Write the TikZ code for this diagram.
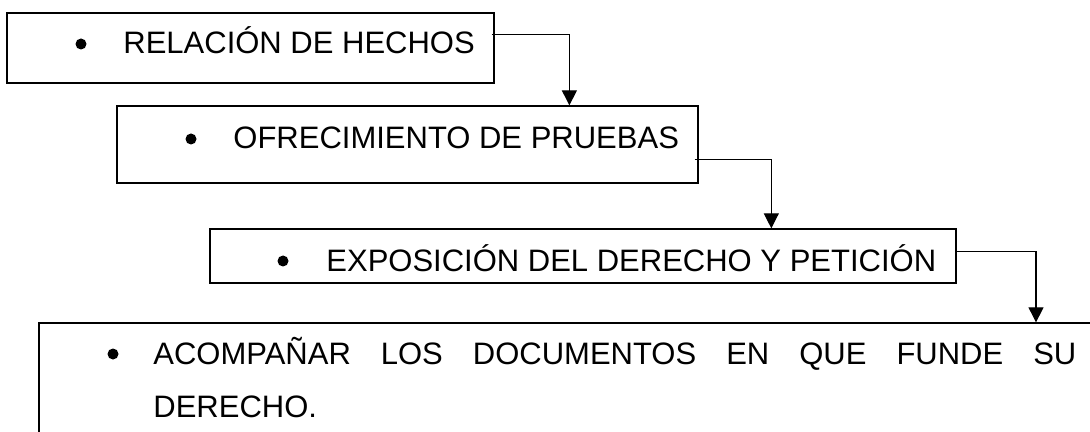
\documentclass[tikz,border=0pt]{standalone}
\usepackage{fontspec}
\setmainfont{Liberation Sans}
\usetikzlibrary{arrows.meta,calc}
\begin{document}
\begin{tikzpicture}[x=0.5pt,y=-0.5pt,
  box/.style={draw=black,line width=0.65pt,rectangle,inner sep=0pt},
  lbl/.style={anchor=base west,inner sep=0pt,font=\fontsize{15.5}{26.5}\selectfont},
  dot/.style={circle,fill=black,inner sep=0pt,minimum size=5.5pt},
  link/.style={line width=0.55pt,-{Triangle[width=7.5pt,length=7.5pt]}}]
\clip (0,0) rectangle (1090,432);
% boxes
\node[box,minimum width=243.5pt,minimum height=35pt] (b1) at (250.5,48) {};
\node[box,minimum width=290.5pt,minimum height=38.5pt] (b2) at (407.5,144.5) {};
\node[box,minimum width=373pt,minimum height=27pt] (b3) at (583,256) {};
\node[box,minimum width=530.5pt,minimum height=58.5pt] (b4) at (569.5,381.5) {};
% bullets
\node[dot] (d1) at (81,44) {};
\node[dot] (d2) at (191,139) {};
\node[dot] (d3) at (283,261) {};
\node[dot] (d4) at (113,354) {};
% texts
\node[lbl] (t1) at (123,54) {RELACIÓN DE HECHOS};
\node[lbl] (t2) at (233,149) {OFRECIMIENTO DE PRUEBAS};
\node[lbl] (t3) at (326,271) {EXPOSICIÓN DEL DERECHO Y PETICIÓN};
\node[lbl] (t4) at (153,364) {\makebox[461.5pt][s]{ACOMPAÑAR LOS DOCUMENTOS EN QUE FUNDE SU}};
\node[lbl] (t5) at (153,417) {DERECHO.};
% connectors
\draw[link] ([xshift=-1.5pt]$(b1.north east)!0.314!(b1.south east)$) -| ($(b2.north west)!0.778!(b2.north east)$);
\draw[link] ([xshift=-2pt]$(b2.north east)!0.688!(b2.south east)$) -| ($(b3.north west)!0.752!(b3.north east)$);
\draw[link] ($(b3.north east)!0.426!(b3.south east)$) -| (b4.north -| 1036,0);
\end{tikzpicture}
\end{document}
